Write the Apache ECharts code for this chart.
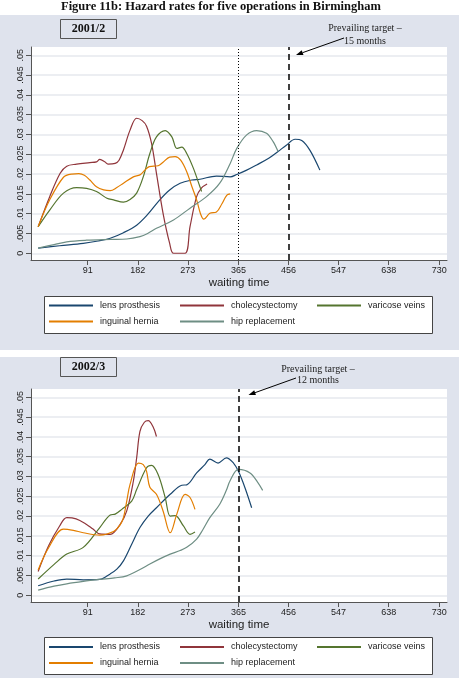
<!DOCTYPE html>
<html>
<head>
<meta charset="utf-8">
<script src="https://cdn.jsdelivr.net/npm/echarts@6/dist/echarts.min.js"></script>
<style>
html,body{margin:0;padding:0;background:#fff;}
#c{width:459px;height:678px;}
</style>
</head>
<body>
<div id="c"></div>
<script>
// ---------- data ----------
const seriesNames = ['lens prosthesis','cholecystectomy','varicose veins','inguinal hernia','hip replacement'];
const xTickValues = [91,182,273,365,456,547,638,730];
const yTickValues = [0,0.005,0.01,0.015,0.02,0.025,0.03,0.035,0.04,0.045,0.05];
const yTickLabels = ['0','.005','.01','.015','.02','.025','.03','.035','.04','.045','.05'];
const panelTitles = ['2001/2','2002/3'];
const targetLines2001 = [365,456];
const targetLines2002 = [365];

// 2001/2
const lens2001 = [[1,.0013],[40,.0019],[83,.0025],[110,.0031],[132,.0038],[156,.0052],[180,.0071],[200,.0098],[222,.0135],[240,.016],[259,.0177],[280,.0185],[295,.0187],[325,.0195],[350,.0193],[362,.0199],[380,.021],[398,.0223],[420,.024],[437,.0257],[452,.0273],[468,.0288],[480,.0285],[495,.026],[513,.021]];
const chol2001 = [[1,.0067],[22,.0143],[41,.0202],[53,.022],[71,.0225],[95,.0229],[107,.0231],[113,.0237],[122,.0231],[128,.0225],[141,.0227],[148,.0235],[156,.0261],[168,.0311],[180,.0341],[190,.0335],[198,.0321],[207,.0278],[216,.0202],[228,.0101],[240,.0025],[247,0],[268,0],[277,.0067],[289,.0143],[298,.0165],[308,.0175]];
const vari2001 = [[1,.0067],[22,.0109],[47,.0152],[71,.0166],[89,.0164],[107,.0156],[126,.0139],[138,.0135],[156,.0129],[168,.0136],[180,.0152],[192,.0193],[204,.0252],[216,.0294],[232,.031],[244,.0294],[253,.0265],[262,.0268],[271,.0252],[283,.0215],[295,.0168],[298,.0156]];
const ingu2001 = [[1,.0067],[22,.0135],[47,.0192],[62,.02],[75,.0201],[85,.0197],[95,.0185],[107,.0168],[120,.016],[132,.0158],[144,.0166],[156,.0177],[174,.0193],[186,.0198],[195,.021],[203,.0219],[219,.0221],[228,.023],[240,.0243],[250,.0244],[260,.0235],[271,.0206],[280,.017],[289,.0135],[296,.01],[302,.0086],[313,.0101],[325,.0104],[335,.0125],[344,.0147],[350,.015]];
const hip2001 = [[1,.0013],[30,.0022],[53,.0029],[89,.0033],[132,.0035],[162,.0036],[186,.0042],[200,.005],[216,.0063],[247,.0084],[277,.0114],[307,.0143],[331,.0177],[350,.0227],[362,.0265],[380,.0299],[398,.031],[416,.0303],[428,.0282],[437,.0257]];

// 2002/3
const lens2002 = [[1,.0024],[30,.0036],[53,.0041],[83,.0039],[113,.004],[132,.0054],[144,.0066],[156,.0087],[171,.0129],[186,.0171],[201,.02],[216,.0221],[241,.0255],[262,.0278],[271,.0279],[289,.0309],[304,.033],[313,.0344],[328,.0334],[343,.0347],[356,.0334],[365,.0313],[377,.0271],[389,.0221]];
const chol2002 = [[1,.006],[20,.0125],[40,.0175],[53,.0196],[70,.0193],[89,.0179],[100,.0168],[113,.0155],[132,.0154],[150,.0179],[162,.0213],[174,.0288],[180,.0347],[186,.0414],[194,.0437],[201,.0441],[210,.0425],[216,.0401]];
const vari2002 = [[1,.0041],[30,.0078],[53,.0104],[83,.0121],[113,.0171],[132,.0203],[141,.0205],[153,.0217],[171,.0238],[180,.0267],[198,.0322],[207,.0328],[219,.0305],[232,.0246],[241,.02],[250,.0201],[265,.0175],[277,.0154],[286,.016]];
const ingu2002 = [[1,.0064],[20,.012],[47,.0167],[65,.0164],[83,.0158],[113,.0152],[138,.0161],[150,.0178],[156,.0196],[162,.0238],[168,.028],[183,.0334],[192,.033],[198,.0313],[204,.0273],[216,.0255],[228,.0213],[241,.0158],[253,.0205],[268,.0255],[277,.0247],[286,.0217]];
const hip2002 = [[1,.0013],[30,.0023],[53,.0029],[83,.0035],[113,.004],[140,.0044],[162,.0049],[186,.0065],[204,.0079],[222,.0092],[241,.0104],[259,.0113],[271,.0121],[289,.0142],[300,.0165],[313,.0196],[331,.023],[343,.0265],[350,.029],[365,.0318],[386,.0309],[400,.0285],[409,.0265]];

const colors = ['#1a476f','#90353b','#55752f','#e37e00','#6e8e84'];

// ---------- chart ----------
const SANS = 'Liberation Sans, Arial, sans-serif';
const SERIF = 'Liberation Serif, Times New Roman, serif';
const gridTops = [47, 389];
const panelData = [[lens2001,chol2001,vari2001,ingu2001,hip2001],[lens2002,chol2002,vari2002,ingu2002,hip2002]];
const panelTargets = [targetLines2001, targetLines2002];

const grids = [], xAxes = [], yAxes = [], series = [], legends = [], graphics = [];

function yFmt(v){
  const i = yTickValues.findIndex(t => Math.abs(t - v) < 1e-9);
  return i >= 0 ? yTickLabels[i] : '';
}

function arrow(x1,y1,x2,y2){
  const dx = x2-x1, dy = y2-y1, L = Math.hypot(dx,dy);
  const ux = dx/L, uy = dy/L, hl = 7, hw = 2.6;
  const bx = x2-ux*hl, by = y2-uy*hl;
  return [
    {type:'line', shape:{x1:x1,y1:y1,x2:bx,y2:by}, style:{stroke:'#000',lineWidth:1}, z:5},
    {type:'polygon', shape:{points:[[x2,y2],[bx-uy*hw,by+ux*hw],[bx+uy*hw,by-ux*hw]]}, style:{fill:'#000'}, z:5}
  ];
}

// panel backgrounds
graphics.push({type:'rect', shape:{x:0,y:15,width:459,height:335}, style:{fill:'#dfe3ed'}, z:-10, silent:true});
graphics.push({type:'rect', shape:{x:0,y:357,width:459,height:321}, style:{fill:'#dfe3ed'}, z:-10, silent:true});

const legendTops = [306.5, 648];
const legendBoxTops = [296.5, 637.5];
const legendCols = [49, 180, 317];
const boxTops = [19.5, 357.5];
const noteY = [[28.7, 41], [369, 380.7]];
const noteX = [365, 318];
const noteSecond = ['15 months', '12 months'];
const arrows = [[344,38,296,55],[296,378,248.5,395]];

for (let p = 0; p < 2; p++) {
  grids.push({left:31, top:gridTops[p], width:416, height:213, show:true, backgroundColor:'#ffffff', borderWidth:0});
  xAxes.push({
    gridIndex:p, type:'value', min:-12, max:744,
    axisLine:{show:true, onZero:false, lineStyle:{color:'#555', width:1}},
    axisTick:{show:true, customValues:xTickValues, length:5, lineStyle:{color:'#555'}},
    axisLabel:{customValues:xTickValues, fontSize:9, color:'#222', margin:6, fontFamily:SANS},
    splitLine:{show:false},
    name:'waiting time', nameLocation:'middle', nameGap:17,
    nameTextStyle:{fontSize:11.5, color:'#222', fontFamily:SANS}
  });
  yAxes.push({
    gridIndex:p, type:'value', min:-0.0017, max:0.0521,
    axisLine:{show:true, onZero:false, lineStyle:{color:'#555', width:1}},
    axisTick:{show:true, customValues:yTickValues, length:5, lineStyle:{color:'#555'}},
    axisLabel:{customValues:yTickValues, rotate:90, fontSize:9, color:'#222', margin:6, fontFamily:SANS, formatter:yFmt},
    splitLine:{show:true, lineStyle:{color:'#e6e8ee', width:1.5}}
  });
  panelData[p].forEach((d, i) => {
    const s = {
      type:'line', name:seriesNames[i], xAxisIndex:p, yAxisIndex:p, data:d,
      showSymbol:false, smooth:0.35, color:colors[i],
      lineStyle:{color:colors[i], width:1.2}, itemStyle:{color:colors[i]}, z:3
    };
    if (i === 0) {
      s.markLine = {
        silent:true, symbol:'none', label:{show:false},
        data: panelTargets[p].map((v, k) => ({
          xAxis:v,
          lineStyle:(p === 0 && k === 0) ? {type:[1,2], color:'#000', width:1} : {type:[6,4], color:'#000', width:1.5}
        }))
      };
    }
    series.push(s);
  });
  // legends
  seriesNames.forEach((n, i) => {
    const row = i < 3 ? 0 : 1, col = i < 3 ? i : i - 3;
    legends.push({
      data:[n], left:legendCols[col], top:legendTops[p] - 5.5 + row*16, padding:0,
      itemWidth:44, itemHeight:2, icon:'rect', itemGap:0, selectedMode:false,
      textStyle:{fontSize:9, color:'#222', fontFamily:SANS, padding:[0,0,0,2]}
    });
  });
  graphics.push({type:'rect', shape:{x:44.5,y:legendBoxTops[p],width:388,height:37}, style:{fill:'#fff', stroke:'#444', lineWidth:1}, z:1, silent:true});
  // panel label box
  graphics.push({type:'rect', shape:{x:60.5,y:boxTops[p],width:56,height:19}, style:{fill:'#dfe3ed', stroke:'#555', lineWidth:1}, z:1, silent:true});
  graphics.push({type:'text', x:88.5, y:boxTops[p] + 9.8, style:{text:panelTitles[p], font:'bold 12px ' + SERIF, fill:'#111', textAlign:'center', textVerticalAlign:'middle'}, z:2});
  // target note
  graphics.push({type:'text', x:noteX[p], y:noteY[p][0], style:{text:'Prevailing target \u2013', font:'10px ' + SERIF, fill:'#222', textAlign:'center', textVerticalAlign:'middle'}, z:2});
  graphics.push({type:'text', x:noteX[p], y:noteY[p][1], style:{text:noteSecond[p], font:'10px ' + SERIF, fill:'#222', textAlign:'center', textVerticalAlign:'middle'}, z:2});
  arrow(...arrows[p]).forEach(g => graphics.push(g));
}

const chart = echarts.init(document.getElementById('c'), null, {renderer:'canvas'});
chart.setOption({
  animation:false,
  backgroundColor:'#ffffff',
  title:{text:'Figure 11b: Hazard rates for five operations in Birmingham', left:61, top:0, padding:0,
    textStyle:{fontFamily:SERIF, fontWeight:'bold', fontSize:12.5, color:'#111'}},
  grid:grids, xAxis:xAxes, yAxis:yAxes, series:series, legend:legends, graphic:graphics
});
</script>
</body>
</html>
